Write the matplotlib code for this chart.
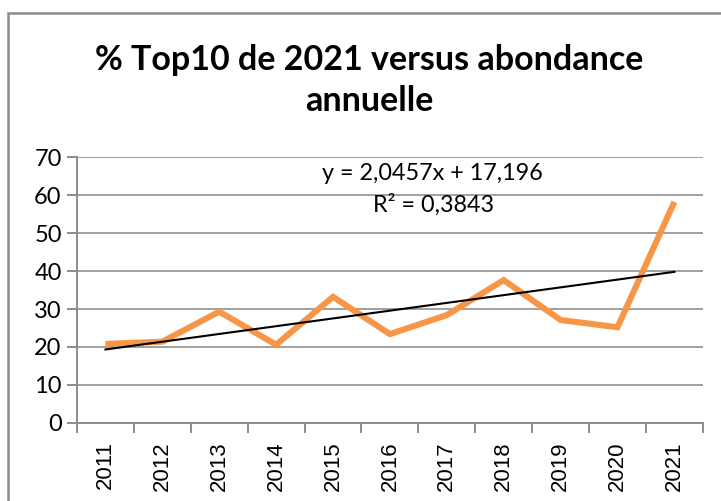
import matplotlib
matplotlib.use("Agg")
import matplotlib.pyplot as plt
import numpy as np
from matplotlib.patches import Rectangle

years = ["2011", "2012", "2013", "2014", "2015", "2016", "2017", "2018", "2019", "2020", "2021"]
pct_top10 = [20.8, 21.4, 29.3, 20.6, 33.2, 23.4, 28.4, 37.6, 27.1, 25.2, 58.2]
equation_label = "y = 2,0457x + 17,196"
r2_label = "R² = 0,3843"
title = "% Top10 de 2021 versus abondance\nannuelle"

grey = "#8c8c8c"

fig = plt.figure(figsize=(7.21, 5.01), dpi=100)
ax = fig.add_axes([0.1068, 0.1557, 0.868, 0.5309])

# chart frame (only left and top edges are visible in the crop)
fig.add_artist(Rectangle((8 / 721, -0.2), 1.2, 1 - 13 / 501 + 0.2,
                         transform=fig.transFigure, fill=False,
                         edgecolor=grey, linewidth=1.8))

x = np.arange(1, len(years) + 1)
ax.plot(x, pct_top10, color="#F79646", linewidth=4.4, solid_capstyle="butt",
        solid_joinstyle="miter", zorder=3)

slope, intercept = np.polyfit(x, pct_top10, 1)
ax.plot(x, slope * x + intercept, color="black", linewidth=1.5, zorder=4)

ax.set_xlim(0.5, len(years) + 0.5)
ax.set_ylim(0, 70)
ax.set_yticks(range(0, 71, 10))
ax.grid(axis="y", color="#a0a0a0", linewidth=1.4)
ax.set_axisbelow(True)

ax.set_xticks(x)
ax.set_xticklabels(years, rotation=90, fontsize=16, family="Liberation Sans")
ax.set_xticks(np.arange(0.5, len(years) + 1), minor=True)
ax.tick_params(axis="x", which="major", length=0, pad=13)
ax.tick_params(axis="x", which="minor", length=7, width=1.4, color=grey)
ax.tick_params(axis="y", length=7, width=1.4, color=grey, pad=4, labelsize=17)
for lab in ax.get_yticklabels():
    lab.set_family("Lato")

for side in ("top", "right"):
    ax.spines[side].set_visible(False)
for side in ("left", "bottom"):
    ax.spines[side].set_color(grey)
    ax.spines[side].set_linewidth(1.4)

ax.text(6.74, 65.6, equation_label, ha="center", va="center", fontsize=16.8, family="Lato")
ax.text(6.76, 57.4, r2_label, ha="center", va="center", fontsize=16.8, family="Lato")

fig.text(0.512, 0.84, title, ha="center", va="center", fontsize=24.5,
         fontweight="bold", family="Lato", linespacing=1.35)

fig.savefig("out.png", dpi=100)
